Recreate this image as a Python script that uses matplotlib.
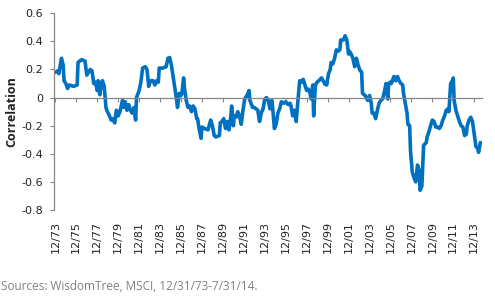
import matplotlib
matplotlib.use('Agg')
import matplotlib.pyplot as plt

# months after 12/31/73 and the rolling correlation
months = [0, 3, 4, 7, 9, 10, 12, 14, 16, 21, 25, 26, 30, 34, 36, 38, 40, 42, 44, 46,
          48, 49, 51, 53, 54, 56, 58, 59, 62, 64, 66, 68, 70, 72, 74, 77, 78, 80, 82, 84,
          86, 88, 90, 92, 93, 96, 98, 100, 103, 105, 107, 109, 112, 114, 116, 118, 119, 123, 127, 129,
          131, 133, 135, 137, 139, 140, 142, 144, 145, 147, 148, 150, 152, 154, 156, 158, 160, 162, 163, 165,
          167, 168, 171, 175, 178, 180, 182, 184, 188, 189, 191, 193, 195, 197, 199, 201, 202, 204, 205, 207,
          209, 211, 213, 215, 217, 220, 222, 223, 226, 228, 230, 232, 234, 236, 238, 240, 242, 244, 246, 248,
          249, 251, 253, 255, 257, 259, 262, 264, 267, 269, 270, 272, 274, 276, 278, 280, 282, 284, 286, 288,
          290, 292, 293, 295, 296, 298, 300, 302, 305, 307, 309, 311, 313, 315, 316, 318, 320, 322, 324, 326,
          327, 330, 332, 334, 336, 337, 339, 341, 343, 345, 347, 349, 351, 352, 355, 357, 358, 360, 362, 363,
          365, 367, 369, 371, 373, 375, 377, 379, 381, 382, 384, 385, 388, 390, 392, 394, 396, 398, 399, 401,
          403, 404, 406, 407, 409, 411, 413, 415, 417, 418, 420, 422, 425, 426, 428, 430, 432, 434, 436, 438,
          440, 442, 444, 446, 448, 450, 451, 453, 455, 456, 457, 459, 461, 463, 465, 467, 469, 471, 472, 474,
          476, 478, 480, 482, 484, 485, 487]
corr = [0.18, 0.19, 0.17, 0.28, 0.23, 0.12, 0.10, 0.065, 0.09, 0.08, 0.09, 0.25, 0.27, 0.26, 0.16, 0.18, 0.20, 0.19, 0.10, 0.11,
        0.05, 0.12, 0.02, 0.11, 0.12, 0.08, -0.07, -0.09, -0.13, -0.16, -0.15, -0.18, -0.09, -0.13, -0.10, -0.02, -0.07, -0.03, -0.09, -0.05,
        -0.09, -0.11, -0.07, -0.16, 0.0, 0.05, 0.11, 0.21, 0.22, 0.20, 0.08, 0.12, 0.12, 0.09, 0.12, 0.11, 0.21, 0.21, 0.22, 0.28,
        0.285, 0.23, 0.15, 0.065, -0.02, -0.07, 0.03, 0.015, 0.03, 0.14, 0.065, -0.02, -0.07, -0.06, -0.10, -0.06, -0.08, -0.15, -0.15, -0.23,
        -0.29, -0.21, -0.22, -0.23, -0.16, -0.20, -0.27, -0.28, -0.27, -0.18, -0.17, -0.15, -0.22, -0.17, -0.23, -0.14, -0.06, -0.20, -0.13, -0.14,
        -0.10, -0.13, -0.19, -0.09, -0.01, 0.02, 0.05, -0.02, -0.07, -0.07, -0.08, -0.09, -0.17, -0.11, -0.08, -0.01, 0.0, -0.02, -0.08, -0.02,
        -0.07, -0.22, -0.19, -0.11, -0.08, -0.03, -0.04, -0.03, -0.05, -0.04, -0.06, -0.13, -0.09, -0.17, -0.02, 0.12, 0.11, 0.13, 0.09, 0.05,
        0.06, 0.03, -0.01, 0.09, -0.13, 0.09, 0.11, 0.12, 0.14, 0.12, 0.095, 0.09, 0.17, 0.20, 0.25, 0.24, 0.28, 0.34, 0.33, 0.34,
        0.41, 0.41, 0.44, 0.41, 0.31, 0.33, 0.31, 0.28, 0.22, 0.28, 0.23, 0.195, 0.18, 0.03, 0.015, -0.01, -0.02, 0.015, -0.04, -0.11,
        -0.11, -0.15, -0.09, -0.04, -0.02, -0.01, 0.04, 0.10, -0.01, 0.10, 0.11, 0.10, 0.15, 0.12, 0.15, 0.12, 0.10, 0.09, 0.03, -0.04,
        -0.11, -0.19, -0.20, -0.38, -0.53, -0.57, -0.60, -0.48, -0.52, -0.66, -0.63, -0.34, -0.32, -0.28, -0.245, -0.20, -0.16, -0.17, -0.21, -0.21,
        -0.22, -0.20, -0.16, -0.13, -0.09, -0.08, -0.10, 0.10, 0.12, 0.14, -0.02, -0.09, -0.13, -0.17, -0.20, -0.21, -0.27, -0.26, -0.20, -0.16,
        -0.14, -0.17, -0.26, -0.35, -0.36, -0.39, -0.32]

tick_months = [0, 24, 48, 72, 96, 120, 144, 168, 192, 216, 240, 264, 288, 312, 336, 360, 384, 408, 432, 456, 480]
tick_labels = ['12/73', '12/75', '12/77', '12/79', '12/81', '12/83', '12/85', '12/87', '12/89', '12/91', '12/93',
               '12/95', '12/97', '12/99', '12/01', '12/03', '12/05', '12/07', '12/09', '12/11', '12/13']
y_ticks = [-0.8, -0.6, -0.4, -0.2, 0.0, 0.2, 0.4, 0.6]
y_labels = ['-0.8', '-0.6', '-0.4', '-0.2', '0', '0.2', '0.4', '0.6']

axis_gray = '#868686'

fig = plt.figure(figsize=(4.95, 3.0), dpi=100)
ax = fig.add_axes([0.109, 0.30, 0.864, 0.6557])

ax.plot(months, corr, color='#0070C0', lw=2.6, solid_joinstyle='round', solid_capstyle='round')

ax.set_xlim(-1.6, 488.5)
ax.set_ylim(-0.8, 0.6)

ax.spines['top'].set_visible(False)
ax.spines['right'].set_visible(False)
ax.spines['bottom'].set_position(('data', 0))
for s in ['left', 'bottom']:
    ax.spines[s].set_color(axis_gray)
    ax.spines[s].set_linewidth(0.9)

ax.set_yticks(y_ticks)
ax.set_yticklabels(y_labels)
ax.tick_params(axis='y', direction='out', length=3, width=0.8, color=axis_gray,
               labelsize=8, pad=5, labelcolor='#222222')

# tick marks on the zero line, labels at the bottom
ax.set_xticks(tick_months)
ax.tick_params(axis='x', direction='out', length=3, width=0.8, color=axis_gray, labelbottom=False)
sec = ax.secondary_xaxis('bottom')
sec.set_xticks(tick_months, labels=tick_labels, rotation=90)
sec.tick_params(length=0, pad=7.7, labelsize=8, labelcolor='#222222')
sec.spines['bottom'].set_visible(False)

fig.text(0.024, 0.627, 'Correlation', rotation=90, ha='center', va='center',
         fontweight='bold', size=9, family=['Open Sans', 'DejaVu Sans'], color='#222222')
fig.text(0.002, 0.0333, 'Sources: WisdomTree, MSCI, 12/31/73-7/31/14.', ha='left', va='baseline',
         size=8.5, family=['Open Sans', 'DejaVu Sans'], color='#808080')

fig.savefig('out.png', dpi=100)
